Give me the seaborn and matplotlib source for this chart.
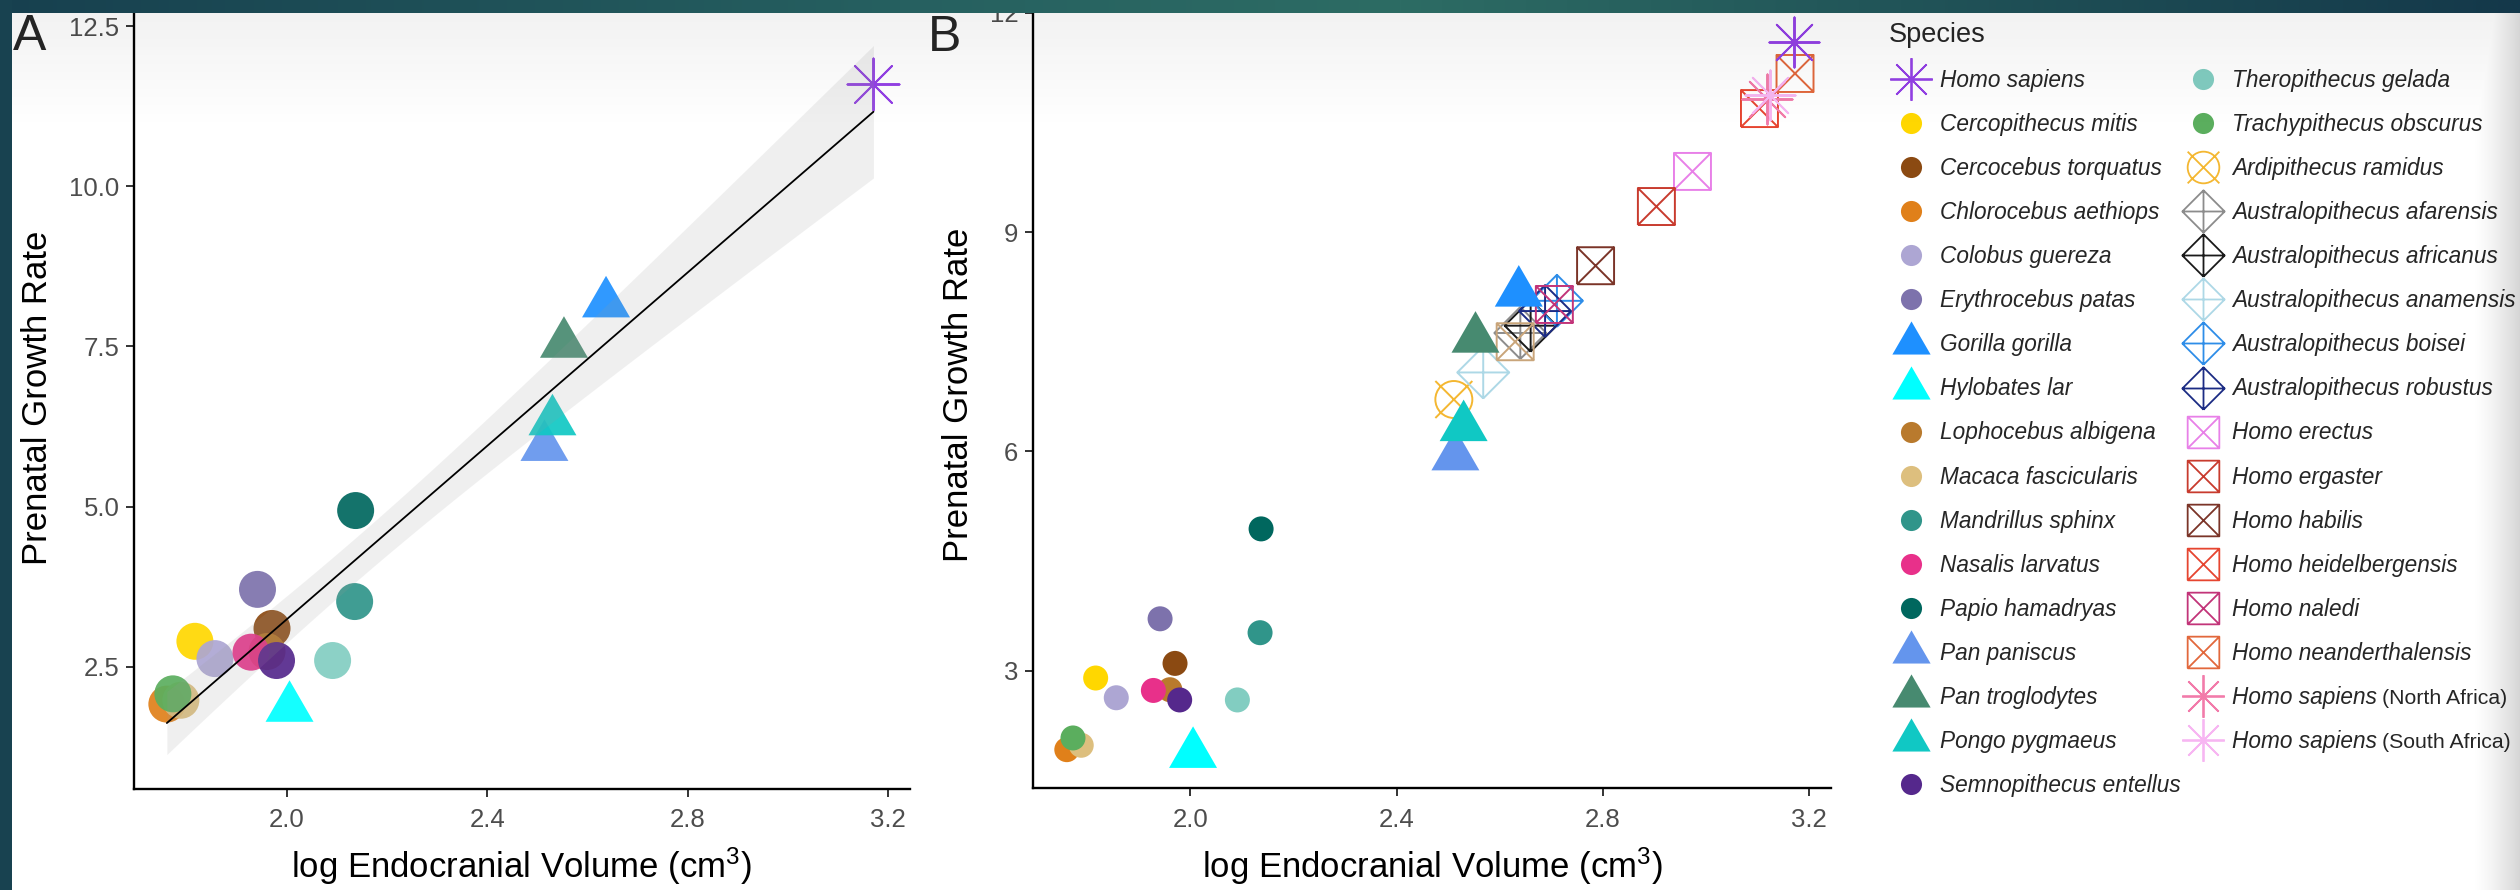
import numpy as np
import pandas as pd
import matplotlib
matplotlib.use("Agg")
import matplotlib.pyplot as plt
import seaborn as sns
from matplotlib.path import Path
from matplotlib.markers import MarkerStyle
from matplotlib.lines import Line2D

# extant primates + Homo sapiens (shown in both panels), legend order
extant = ["Homo sapiens", "Cercopithecus mitis", "Cercocebus torquatus",
          "Chlorocebus aethiops", "Colobus guereza", "Erythrocebus patas",
          "Gorilla gorilla", "Hylobates lar", "Lophocebus albigena",
          "Macaca fascicularis", "Mandrillus sphinx", "Nasalis larvatus",
          "Papio hamadryas", "Pan paniscus", "Pan troglodytes",
          "Pongo pygmaeus", "Semnopithecus entellus", "Theropithecus gelada",
          "Trachypithecus obscurus"]
extant_ecv = [3.171, 1.816, 1.970, 1.760, 1.856, 1.941, 2.637, 2.005, 1.960,
              1.788, 2.135, 1.928, 2.137, 2.514, 2.553, 2.530, 1.979, 2.091,
              1.772]
extant_pgr = [11.60, 2.90, 3.10, 1.92, 2.63, 3.71, 8.17, 1.86, 2.74,
              1.98, 3.52, 2.73, 4.94, 5.93, 7.54, 6.33, 2.60, 2.60, 2.08]
extant_shape = ["star", "circle", "circle", "circle", "circle", "circle",
                "triangle", "triangle", "circle", "circle", "circle", "circle",
                "circle", "triangle", "triangle", "triangle", "circle",
                "circle", "circle"]

# fossil hominins (panel B only)
fossil = ["Ardipithecus ramidus", "Australopithecus afarensis",
          "Australopithecus africanus", "Australopithecus anamensis",
          "Australopithecus boisei", "Australopithecus robustus",
          "Homo erectus", "Homo ergaster", "Homo habilis",
          "Homo heidelbergensis", "Homo naledi", "Homo neanderthalensis",
          "Homo sapiens (North Africa)", "Homo sapiens (South Africa)"]
fossil_ecv = [2.511, 2.640, 2.660, 2.568, 2.711, 2.688, 2.974, 2.904, 2.786,
              3.104, 2.706, 3.173, 3.118, 3.124]
fossil_pgr = [6.71, 7.62, 7.72, 7.08, 8.06, 7.92, 9.83, 9.35, 8.54,
              10.69, 8.01, 11.17, 10.82, 10.87]
fossil_shape = ["circlecross", "diamond", "diamond", "diamond", "diamond",
                "diamond", "square", "square", "square", "square", "square",
                "square", "star", "star"]

# tan square in panel B that has no legend entry
extra = ["Homo floresiensis"]
extra_ecv = [2.630]
extra_pgr = [7.50]
extra_shape = ["square"]

colors = {
    "Homo sapiens": "#9441E6", "Cercopithecus mitis": "#FFD700",
    "Cercocebus torquatus": "#8B4A12", "Chlorocebus aethiops": "#E0801A",
    "Colobus guereza": "#ADA6D3", "Erythrocebus patas": "#7D72AC",
    "Gorilla gorilla": "#1E90FF", "Hylobates lar": "#00FFFF",
    "Lophocebus albigena": "#B97A2D", "Macaca fascicularis": "#DDBF7E",
    "Mandrillus sphinx": "#30958A", "Nasalis larvatus": "#E8308A",
    "Papio hamadryas": "#00675E", "Pan paniscus": "#6495ED",
    "Pan troglodytes": "#478A70", "Pongo pygmaeus": "#10C8C4",
    "Semnopithecus entellus": "#55288C", "Theropithecus gelada": "#82CDC1",
    "Trachypithecus obscurus": "#5BAE5E", "Ardipithecus ramidus": "#F4B731",
    "Australopithecus afarensis": "#8C8C8C",
    "Australopithecus africanus": "#1A1A1A",
    "Australopithecus anamensis": "#ADD8E6",
    "Australopithecus boisei": "#2E8DE8",
    "Australopithecus robustus": "#1C2C84", "Homo erectus": "#E880E8",
    "Homo ergaster": "#C83B2E", "Homo habilis": "#7B3428",
    "Homo heidelbergensis": "#E64530", "Homo naledi": "#C23479",
    "Homo neanderthalensis": "#E2683C",
    "Homo sapiens (North Africa)": "#F27BAA",
    "Homo sapiens (South Africa)": "#F7B6F2",
    "Homo floresiensis": "#C9A57A",
}

dfA = pd.DataFrame({"species": extant, "ecv": extant_ecv,
                    "pgr": extant_pgr, "shape": extant_shape})
dfF = pd.DataFrame({"species": fossil + extra, "ecv": fossil_ecv + extra_ecv,
                    "pgr": fossil_pgr + extra_pgr,
                    "shape": fossil_shape + extra_shape})
dfB = pd.concat([dfF, dfA], ignore_index=True)

# R-like point shapes
M, L, C = Path.MOVETO, Path.LINETO, Path.CLOSEPOLY
circ = Path.unit_circle()
markers = {
    "circle": "o",
    "triangle": MarkerStyle(Path([(0, 1), (-0.866, -0.5), (0.866, -0.5), (0, 1)],
                                 [M, L, L, C])),
    "star": MarkerStyle((8, 2, 0)),
    "square": MarkerStyle(Path([(-1, -1), (1, -1), (1, 1), (-1, 1), (-1, -1),
                                (-1, -1), (1, 1), (-1, 1), (1, -1)],
                               [M, L, L, L, L, M, L, M, L]), fillstyle="none"),
    "diamond": MarkerStyle(Path([(0, -1), (1, 0), (0, 1), (-1, 0), (0, -1),
                                 (0, -1), (0, 1), (-1, 0), (1, 0)],
                                [M, L, L, L, L, M, L, M, L]), fillstyle="none"),
    "circlecross": MarkerStyle(Path(np.vstack([circ.vertices,
                                               [(-1, -1), (1, 1), (-1, 1), (1, -1)]]),
                                    np.concatenate([circ.codes, [M, L, M, L]])),
                               fillstyle="none"),
}
filled = {"circle", "triangle"}

sns.set_theme(style="ticks")
plt.rcParams["font.family"] = ["Liberation Sans", "DejaVu Sans"]
plt.rcParams["mathtext.fontset"] = "custom"
plt.rcParams["mathtext.rm"] = "Liberation Sans"
plt.rcParams["mathtext.it"] = "Liberation Sans:italic"

W, H = 2520, 890
fig = plt.figure(figsize=(W / 100, H / 100), dpi=100, facecolor="white")


def px_axes(left, top, right, bottom):
    return fig.add_axes([left / W, (H - bottom) / H, (right - left) / W, (bottom - top) / H])


axA = px_axes(134.3, 6.8, 909.5, 788.7)
axB = px_axes(1033.3, 1.84, 1831.1, 788.4)


def draw_points(ax, df, sizes, alpha):
    for i in range(len(df)):
        row = df.iloc[[i]]
        shp = row["shape"].iloc[0]
        kw = dict(marker=markers[shp], s=sizes[shp], color=colors[row["species"].iloc[0]],
                  ax=ax, legend=False, zorder=2)
        if shp in filled:
            kw.update(edgecolor="none", linewidths=0, alpha=alpha)
        else:
            kw.update(linewidths=1.4)
        sns.scatterplot(data=row, x="ecv", y="pgr", **kw)


sizesA = {"circle": 709, "triangle": 1591, "star": 1400}
sizesB = {"circle": 324, "triangle": 1591, "star": 1300, "square": 709,
          "diamond": 1400, "circlecross": 709}
draw_points(axA, dfA, sizesA, 0.92)
draw_points(axB, dfB, sizesB, 1.0)

# linear fit with 95% confidence band (panel A)
xa = dfA["ecv"].to_numpy()
ya = dfA["pgr"].to_numpy()
slope, intercept = np.polyfit(xa, ya, 1)
xs = np.linspace(xa.min(), xa.max(), 100)
fit = intercept + slope * xs
resid = ya - (intercept + slope * xa)
s_err = np.sqrt(np.sum(resid ** 2) / (len(xa) - 2))
se = s_err * np.sqrt(1 / len(xa) + (xs - xa.mean()) ** 2 / np.sum((xa - xa.mean()) ** 2))
t975 = 2.1098  # Student t quantile, 17 df
axA.fill_between(xs, fit - t975 * se, fit + t975 * se, color="#999999",
                 alpha=0.15, linewidth=0, zorder=3)
sns.lineplot(x=xs, y=fit, color="black", linewidth=1.3, ax=axA, zorder=4)


def style(ax, ylim, yticks, ylabels, ylab_x, xlab_y):
    ax.set_xlim(1.695, 3.243)
    ax.set_ylim(*ylim)
    ax.set_xticks([2.0, 2.4, 2.8, 3.2], ["2.0", "2.4", "2.8", "3.2"])
    ax.set_yticks(yticks, ylabels)
    ax.set_facecolor("white")
    sns.despine(ax=ax)
    for sp in ("left", "bottom"):
        ax.spines[sp].set_linewidth(1.7)
        ax.spines[sp].set_color("black")
    ax.tick_params(axis="both", length=5.8, width=1.4, color="#333333",
                   labelcolor="#4d4d4d", labelsize=18.5)
    ax.tick_params(axis="x", pad=8)
    ax.tick_params(axis="y", pad=5)
    ax.set_xlabel("log Endocranial Volume (cm$^3$)", fontsize=25, color="black")
    ax.set_ylabel("Prenatal Growth Rate", fontsize=25, color="black")
    ax.xaxis.label.set_va("baseline")
    ax.xaxis.set_label_coords(0.5, xlab_y)
    ax.yaxis.label.set_va("baseline")
    ax.yaxis.set_label_coords(ylab_x, 0.5)


style(axA, (0.6, 12.8), [2.5, 5.0, 7.5, 10.0, 12.5],
      ["2.5", "5.0", "7.5", "10.0", "12.5"], -0.1126, -0.1142)
style(axB, (1.39, 12.15), [3, 6, 9, 12], ["3", "6", "9", "12"], -0.0819, -0.1139)

fig.text(13 / W, 1 - 50 / H, "A", fontsize=36, ha="left", va="baseline")
fig.text(928 / W, 1 - 51 / H, "B", fontsize=36, ha="left", va="baseline")

# legend; the region suffix of the two modern-human samples is set upright and smaller
leg_size = {"circle": 15.2, "triangle": 31.8, "star": 30.7, "diamond": 30.5,
            "square": 22.8, "circlecross": 22.8}
handles, labels, suffixes = [], [], {}
for i, (sp, shp) in enumerate(zip(extant + fossil, extant_shape + fossil_shape)):
    c = colors[sp]
    if shp in filled:
        h = Line2D([], [], linestyle="none", marker=markers[shp], markersize=leg_size[shp],
                   markerfacecolor=c, markeredgecolor=c, markeredgewidth=0)
    else:
        h = Line2D([], [], linestyle="none", marker=markers[shp], markersize=leg_size[shp],
                   color=c, markerfacecolor="none", markeredgecolor=c, markeredgewidth=1.3)
    handles.append(h)
    if " (" in sp:
        name, region = sp.split(" (")
        labels.append(name)
        suffixes[i] = "(" + region
    else:
        labels.append(sp)

leg = fig.legend(handles, labels, loc="upper left", bbox_to_anchor=(1889 / W, 1 - 22 / H),
                 ncol=2, frameon=False, borderpad=0, borderaxespad=0, handlelength=1.95,
                 handletextpad=0.3, columnspacing=0.0, labelspacing=0.93,
                 alignment="left", prop={"style": "italic", "size": 16.3},
                 title="Species", title_fontproperties={"size": 19.5})

fig.canvas.draw()
renderer = fig.canvas.get_renderer()
for i, suffix in suffixes.items():
    t = leg.get_texts()[i]
    bb = t.get_window_extent(renderer)
    _, base_y = t.get_transform().transform(t.get_position())
    fig.text((bb.x1 + 5) / W, base_y / H, suffix, fontsize=15.3, ha="left", va="baseline",
             color=t.get_color())

# slide frame around the screenshot
over = np.zeros((H, W, 4))
rows = np.arange(H)
cols = np.arange(W)
over[:, :, 3] = np.clip((130 - rows) / 117, 0, 1)[:, None] * 0.055
shade = np.clip((cols - 2470) / 50, 0, 1) ** 1.5 * 0.17
over[:, :, 3] = np.maximum(over[:, :, 3], shade[None, :])
stops_x = [0, 900, 1400, 1900, 2520]
stops_c = np.array([[23, 64, 79], [38, 96, 96], [45, 108, 100], [33, 84, 88], [20, 56, 74]]) / 255
band = np.stack([np.interp(cols, stops_x, stops_c[:, k]) for k in range(3)], axis=1)
over[:13, :, :3] = band[None]
over[:13, :, 3] = 1
over[:, :12, :3] = np.array([24, 66, 80]) / 255
over[:, :12, 3] = 1
ov = fig.add_axes([0, 0, 1, 1], zorder=10)
ov.imshow(over, aspect="auto", interpolation="nearest")
ov.axis("off")

fig.savefig("out.png", dpi=100, facecolor="white")
